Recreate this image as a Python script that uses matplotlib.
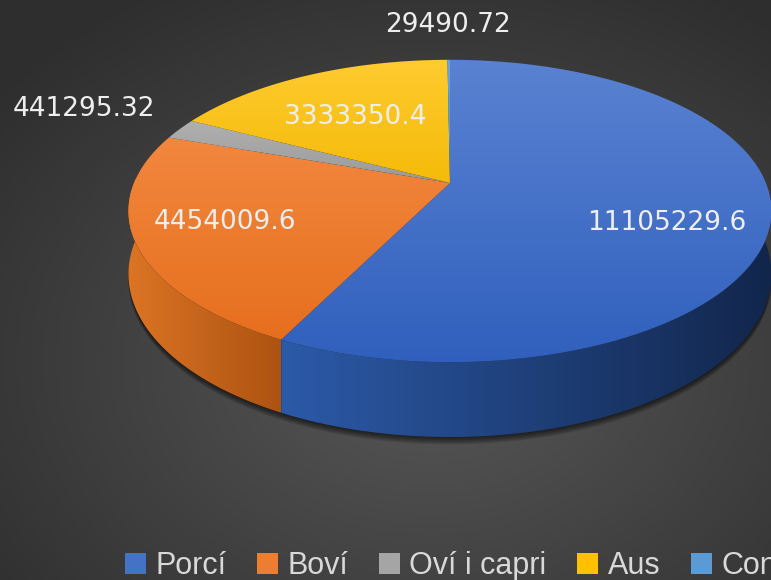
import numpy as np
import matplotlib
matplotlib.use("Agg")
import matplotlib.pyplot as plt
from matplotlib.patches import Polygon, Patch
from matplotlib.colors import LinearSegmentedColormap, to_rgb

categories = ["Porcí", "Boví", "Oví i capri", "Aus", "Conill"]
values = [11105229.6, 4454009.6, 441295.32, 3333350.4, 29490.72]
value_labels = ["11105229.6", "4454009.6", "441295.32", "3333350.4", "29490.72"]

# colours: top face (light, dark), side (light, dark), legend swatch
top_cols = [("#5a82d2", "#3060bd"), ("#f2873e", "#e66f1e"), ("#b0b0b0", "#9a9a9a"),
            ("#ffcb30", "#f5bb08"), ("#6aa6de", "#5193d0")]
side_cols = [("#2c5aa8", "#12264c"), ("#dc7424", "#ad5312"), ("#8c8c8c", "#6a6a6a"),
             ("#d8a400", "#a87f00"), ("#4a86c0", "#2f5f90")]
legend_cols = ["#4472c4", "#ed7d31", "#a5a5a5", "#ffc000", "#5b9bd5"]

W, H = 771, 580
# perspective disc: centre, half axes, tilt factor, side height
cx, cy, A, B, k, depth = 450, 183, 316, 146, 0.185, 61

fig = plt.figure(figsize=(W / 100, H / 100), dpi=100)
ax = fig.add_axes([0, 0, 1, 1])
ax.set_axis_off()

# background gradient
yy, xx = np.mgrid[0:H, 0:W]
d = np.clip(np.sqrt(((xx - 430) / 560.0) ** 2 + ((yy - 360) / 430.0) ** 2), 0, 1)
c0, c1 = np.array(to_rgb("#585858")), np.array(to_rgb("#2e2e2e"))
bg = c0[None, None, :] * (1 - d[..., None]) + c1[None, None, :] * d[..., None]
ax.imshow(bg, extent=[0, W, H, 0], aspect="auto", zorder=0)


def pt(t, low=0.0, f=1.0, dy=0.0):
    r = np.radians(t)
    X, Y = f * np.sin(r), f * np.cos(r)
    q = 1 + k * Y
    return cx + A * X / q, cy - B * Y / q + low / q + dy


def grad_fill(poly, cols, horizontal, z):
    ax.add_patch(poly)
    cmap = LinearSegmentedColormap.from_list("g", cols)
    xs, ys = poly.get_xy()[:, 0], poly.get_xy()[:, 1]
    x0, x1, y0, y1 = xs.min(), xs.max(), ys.min(), ys.max()
    g = np.linspace(0, 1, 256)
    g = g[None, :] if horizontal else g[:, None]
    im = ax.imshow(g, cmap=cmap, extent=[x0, x1, y1, y0], aspect="auto", zorder=z)
    im.set_clip_path(poly)


# shadow just under the bottom rim
ts = np.linspace(0, 360, 400)
for j in range(6):
    sh = np.array([pt(v, depth + 1 + j) for v in ts])
    ax.add_patch(Polygon(sh, closed=True, facecolor="black", edgecolor="none",
                         alpha=0.12, zorder=1))

fr = np.array(values) / sum(values)
bounds = np.concatenate([[0], np.cumsum(fr) * 360])

# sides (front half)
for i in range(len(values)):
    a, b = max(bounds[i], 88), min(bounds[i + 1], 272)
    if b <= a:
        continue
    t = np.linspace(a, b, 150)
    top = np.array([pt(v) for v in t])
    bot = np.array([pt(v, depth) for v in t[::-1]])
    poly = Polygon(np.vstack([top, bot]), closed=True, facecolor="none",
                   edgecolor="none", zorder=2)
    grad_fill(poly, side_cols[i], True, 2)

# top faces
for i in range(len(values)):
    t = np.linspace(bounds[i], bounds[i + 1], 200)
    arc = np.array([pt(v) for v in t])
    poly = Polygon(np.vstack([[cx, cy], arc]), closed=True, facecolor="none",
                   edgecolor="none", zorder=3)
    grad_fill(poly, top_cols[i], False, 3)

# data labels
lab_r = [0.684, 0.73, 1.39, 0.63, 1.353]
lab_dy = [16, -3, -1, 5, 0]
for i, txt in enumerate(value_labels):
    m = (bounds[i] + bounds[i + 1]) / 2
    x, y = pt(m, 0, lab_r[i], lab_dy[i])
    ax.text(x, y, txt, ha="center", va="center", fontsize=19, color="#eeeeee",
            family=["Liberation Sans Narrow", "DejaVu Sans"], zorder=5)

ax.set_xlim(0, W)
ax.set_ylim(H, 0)

handles = [Patch(facecolor=c, edgecolor="none") for c in legend_cols]
ax.legend(handles, categories, ncol=5, loc="center left",
          bbox_to_anchor=(97 / W, 1 - 566 / H), frameon=False,
          prop={"family": "Liberation Sans", "size": 22},
          labelcolor="#d9d9d9", handlelength=0.7, handleheight=0.7,
          handletextpad=0.3, columnspacing=1.0)

fig.savefig("out.png", dpi=100)
